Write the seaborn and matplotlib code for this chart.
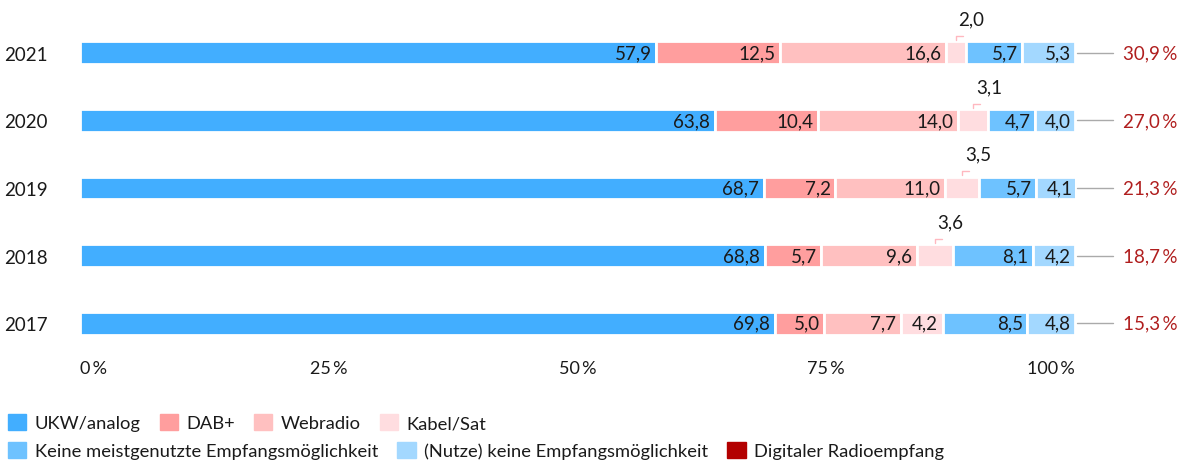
import matplotlib
matplotlib.use('Agg')

import matplotlib.pyplot as plt
import seaborn as sns
import pandas as pd
from matplotlib.patches import Patch

years = ["2021", "2020", "2019", "2018", "2017"]
ukw = [57.9, 63.8, 68.7, 68.8, 69.8]
dab = [12.5, 10.4, 7.2, 5.7, 5.0]
webradio = [16.6, 14.0, 11.0, 9.6, 7.7]
kabel_sat = [2.0, 3.1, 3.5, 3.6, 4.2]
keine_meist = [5.7, 4.7, 5.7, 8.1, 8.5]
keine_empfang = [5.3, 4.0, 4.1, 4.2, 4.8]
digital = [30.9, 27.0, 21.3, 18.7, 15.3]

series_names = ["UKW/analog", "DAB+", "Webradio", "Kabel/Sat",
                "Keine meistgenutzte Empfangsmöglichkeit",
                "(Nutze) keine Empfangsmöglichkeit"]
digital_name = "Digitaler Radioempfang"
colors = ["#42aeff", "#ff9e9e", "#ffc0c0", "#ffdde0", "#6ec2ff", "#a3d8ff"]
digital_color = "#b30000"
x_ticks = [0, 25, 50, 75, 100]
x_tick_labels = ["0\u2009%", "25\u2009%", "50\u2009%", "75\u2009%", "100\u2009%"]

sns.set_style("white")
plt.rcParams['font.family'] = ['Lato', 'DejaVu Sans']
text_color = "#1a1a1a"
fs = 13.5


def fmt(v):
    return f"{v:.1f}".replace(".", ",")


series = [ukw, dab, webradio, kabel_sat, keine_meist, keine_empfang]

fig = plt.figure(figsize=(11.8, 4.64), dpi=100)
ax = fig.add_axes([80 / 1180, 1 - 358 / 464, 995 / 1180, 338 / 464])

# stacked horizontal bars, one seaborn call per series
left = [0.0] * len(years)
bar_h = 0.34
for name, vals, col in zip(series_names, series, colors):
    df = pd.DataFrame({"year": years, "value": vals})
    sns.barplot(data=df, x="value", y="year", order=years, orient="y",
                color=col, saturation=1, width=bar_h, left=left,
                edgecolor="white", linewidth=2, ax=ax)
    for i, v in enumerate(vals):
        if name == "Kabel/Sat" and v < 4:
            cx = left[i] + v / 2
            ax.plot([cx, cx, cx + 0.7], [i - bar_h / 2 - 0.02, i - 0.25, i - 0.25],
                    color="#ffb8c0", lw=1, clip_on=False)
            ax.text(cx + 1.6, i - 0.5, fmt(v), ha="center", va="center",
                    fontsize=fs, color=text_color)
        else:
            ax.text(left[i] + v - 0.45, i, fmt(v), ha="right", va="center",
                    fontsize=fs, color=text_color)
    left = [l + v for l, v in zip(left, vals)]

# digital share on the right
for i, v in enumerate(digital):
    ax.plot([100.2, 103.8], [i, i], color="#aaaaaa", lw=1, clip_on=False)
    ax.text(104.8, i, fmt(v) + "\u2009%", ha="left", va="center",
            fontsize=fs, color="#b01e1e")

ax.set_xlim(0, 100)
ax.set_ylim(4.5, -0.5)
ax.set_xticks(x_ticks)
ax.set_xticklabels(x_tick_labels)
for lab, ha in zip(ax.get_xticklabels(), ["left", "center", "center", "center", "right"]):
    lab.set_ha(ha)
ax.tick_params(axis="x", length=0, pad=2, labelsize=fs - 0.5, labelcolor=text_color)
ax.tick_params(axis="y", length=0, pad=23, labelsize=fs, labelcolor=text_color)
ax.set_xlabel("")
ax.set_ylabel("")
sns.despine(ax=ax, left=True, bottom=True)

# legend in two rows
h1 = [Patch(color=c, label=n) for c, n in zip(colors[:4], series_names[:4])]
h2 = [Patch(color=c, label=n) for c, n in zip(colors[4:], series_names[4:])]
h2.append(Patch(color=digital_color, label=digital_name))
leg_kw = dict(loc="upper left", frameon=False, fontsize=13.2, handlelength=1.0,
              handleheight=1.0, handletextpad=0.45, columnspacing=1.05,
              borderpad=0, borderaxespad=0, labelcolor=text_color)
fig.legend(handles=h1, ncol=4, bbox_to_anchor=(8 / 1180, 1 - 415 / 464), **leg_kw)
fig.legend(handles=h2, ncol=3, bbox_to_anchor=(8 / 1180, 1 - 443 / 464), **leg_kw)

fig.savefig("out.png", dpi=100)
plt.close(fig)
